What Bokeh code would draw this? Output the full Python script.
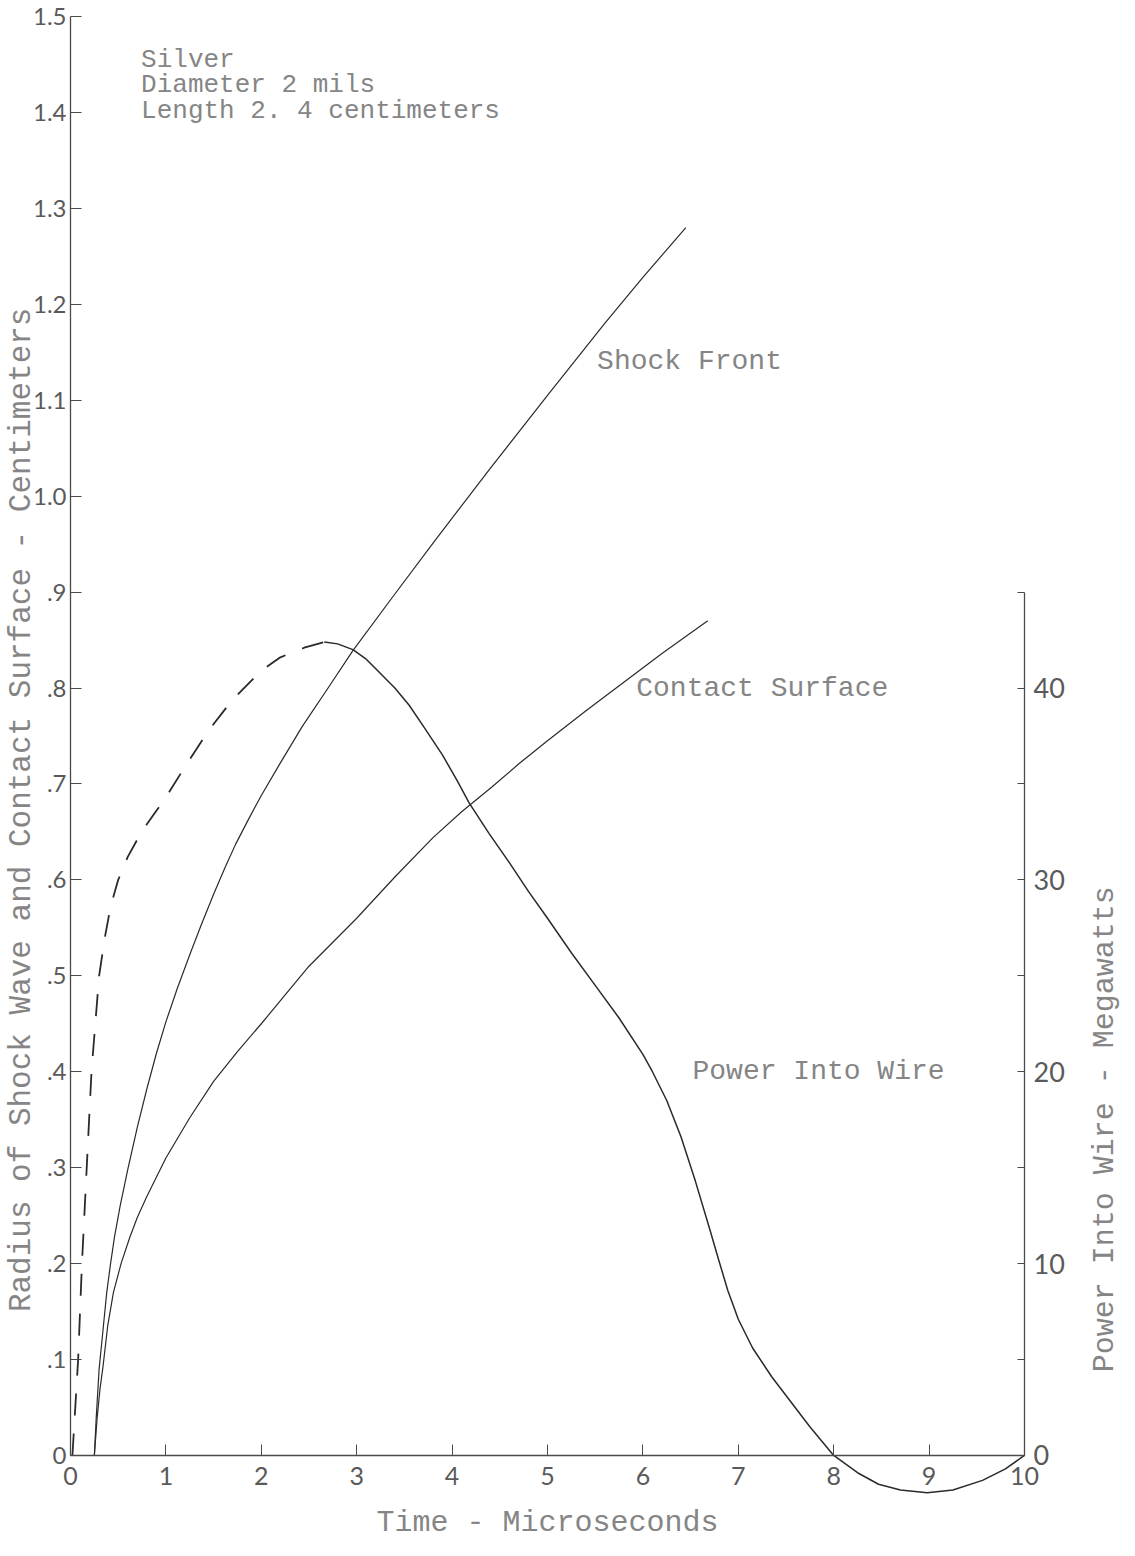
from math import pi
from bokeh.plotting import figure
from bokeh.models import Range1d, LinearAxis, FixedTicker, Label
from bokeh.embed import file_html
from bokeh.resources import INLINE

# ---------------- data ----------------
# time in microseconds, radius in centimeters
shock_t = [0.25, 0.27, 0.30, 0.34, 0.38, 0.42, 0.46, 0.52, 0.60, 0.70, 0.80, 0.90, 1.00, 1.12, 1.25,
           1.37, 1.50, 1.62, 1.73, 1.86, 2.00, 2.20, 2.43, 2.70, 2.96, 3.40, 3.83, 4.40, 5.00, 5.60, 6.00,
           6.45]
shock_r = [0.0, 0.04, 0.09, 0.13, 0.17, 0.20, 0.227, 0.26, 0.298, 0.342, 0.382, 0.419, 0.452, 0.487, 0.522,
           0.553, 0.585, 0.613, 0.637, 0.662, 0.688, 0.722, 0.760, 0.800, 0.839, 0.898, 0.955, 1.029, 1.105,
           1.180, 1.228, 1.280]

contact_t = [0.25, 0.28, 0.31, 0.34, 0.39, 0.45, 0.53, 0.62, 0.70, 0.80, 0.90, 1.00, 1.25, 1.50, 1.75,
             2.00, 2.25, 2.50, 2.75, 3.00, 3.40, 3.80, 4.10, 4.42, 4.70, 5.00, 5.40, 5.80, 6.20, 6.68]
contact_r = [0.0, 0.04, 0.07, 0.092, 0.135, 0.17, 0.20, 0.227, 0.248, 0.27, 0.29, 0.31, 0.352, 0.39, 0.421,
             0.45, 0.48, 0.51, 0.535, 0.56, 0.603, 0.644, 0.671, 0.697, 0.721, 0.745, 0.776, 0.806, 0.836,
             0.870]

# power into wire, megawatts (dashed early part, solid from the peak on)
power_dash_t = [0.02, 0.05, 0.08, 0.10, 0.12, 0.145, 0.17, 0.195, 0.22, 0.26, 0.30, 0.36, 0.42, 0.50, 0.60,
                0.70, 0.80, 0.90, 1.00, 1.20, 1.45, 1.70, 2.00, 2.20, 2.45, 2.66]
power_dash_p = [0.0, 2.5, 5.0, 7.5, 10.0, 12.5, 15.0, 17.5, 20.0, 22.5, 25.0, 27.0, 28.6, 30.0, 31.2,
                32.1, 32.9, 33.6, 34.3, 35.9, 37.8, 39.4, 40.9, 41.6, 42.1, 42.4]

power_t = [2.66, 2.80, 2.96, 3.10, 3.20, 3.40, 3.55, 3.70, 3.90, 4.05, 4.18, 4.39, 4.60, 4.80, 5.00, 5.25,
           5.50, 5.75, 6.00, 6.10, 6.25, 6.40, 6.55, 6.70, 6.80, 6.89, 7.00, 7.15, 7.35, 7.55, 7.75, 8.00,
           8.25, 8.47, 8.70, 8.98, 9.25, 9.56, 9.80, 10.0]
power_p = [42.4, 42.3, 42.0, 41.5, 41.0, 40.0, 39.1, 38.0, 36.5, 35.2, 34.0, 32.4, 30.9, 29.4, 28.0, 26.2,
           24.5, 22.8, 20.9, 20.0, 18.5, 16.6, 14.3, 11.8, 10.1, 8.6, 7.1, 5.6, 4.1, 2.8, 1.5, 0.0,
           -0.9, -1.5, -1.8, -1.95, -1.8, -1.3, -0.7, 0.0]

x_ticks = [0, 1, 2, 3, 4, 5, 6, 7, 8, 9, 10]
left_ticks = [0.0, 0.1, 0.2, 0.3, 0.4, 0.5, 0.6, 0.7, 0.8, 0.9, 1.0, 1.1, 1.2, 1.3, 1.4, 1.5]
left_labels = ["0", ".1", ".2", ".3", ".4", ".5", ".6", ".7", ".8", ".9", "1.0", "1.1", "1.2", "1.3", "1.4", "1.5"]
right_major = [0, 10, 20, 30, 40]
right_minor = [5, 15, 25, 35, 45]

info_lines = ["Silver", "Diameter  2  mils", "Length 2. 4 centimeters"]
x_title = "Time - Microseconds"
left_title = "Radius of Shock Wave and Contact Surface - Centimeters"
right_title = "Power Into Wire - Megawatts"

MW_PER_CM = 50.0  # 40 MW sits at the .8 level

# ---------------- figure ----------------
PX_X = 95.4     # pixels per microsecond
PX_Y = 959.3    # pixels per centimeter
W, H = 1125, 1540
X0 = -70 / PX_X
X1 = X0 + W / PX_X
Y1 = 1.5 + 16 / PX_Y
Y0 = Y1 - H / PX_Y

p = figure(width=W, height=H, output_backend="svg", toolbar_location=None,
           x_range=Range1d(X0, X1), y_range=Range1d(Y0, Y1),
           x_axis_location=None, y_axis_location=None,
           min_border=0)
p.outline_line_color = None
p.background_fill_color = "white"
p.border_fill_color = "white"
p.xgrid.grid_line_color = None
p.ygrid.grid_line_color = None
p.extra_y_ranges = {"power": Range1d(Y0 * MW_PER_CM, Y1 * MW_PER_CM)}

AX_COLOR = "#4a4a4a"
NUM_COLOR = "#5a5a5a"
TXT_COLOR = "#858585"
NUM_FONT = "Lato"
TW_FONT = "Liberation Mono"

# left axis at t = 0
lax = LinearAxis(ticker=FixedTicker(ticks=left_ticks), bounds=(0, 1.5), fixed_location=0,
                 major_label_overrides=dict(zip(left_ticks, left_labels)))
lax.axis_line_color = AX_COLOR
lax.axis_line_width = 1.3
lax.major_tick_in = 11
lax.major_tick_out = 0
lax.major_tick_line_color = AX_COLOR
lax.minor_tick_line_color = None
lax.major_label_standoff = 4
lax.major_label_text_font = NUM_FONT
lax.major_label_text_font_size = "24px"
lax.major_label_text_color = NUM_COLOR
p.add_layout(lax, "left")

# bottom axis drawn at the zero line
bax = LinearAxis(ticker=FixedTicker(ticks=x_ticks), bounds=(0, 10), fixed_location=0)
bax.axis_line_color = AX_COLOR
bax.axis_line_width = 1.3
bax.major_tick_in = 11
bax.major_tick_out = 0
bax.major_tick_line_color = AX_COLOR
bax.minor_tick_line_color = None
bax.major_label_standoff = 12
bax.major_label_text_font = NUM_FONT
bax.major_label_text_font_size = "25px"
bax.major_label_text_color = NUM_COLOR
bax.axis_label = x_title
bax.axis_label_text_font = TW_FONT
bax.axis_label_text_font_size = "30px"
bax.axis_label_text_font_style = "normal"
bax.axis_label_text_color = TXT_COLOR
bax.axis_label_standoff = 17
p.add_layout(bax, "below")

# right axis (power) drawn at t = 10
rax = LinearAxis(y_range_name="power", fixed_location=10, bounds=(0, 45),
                 ticker=FixedTicker(ticks=right_major, minor_ticks=right_minor))
rax.axis_line_color = AX_COLOR
rax.axis_line_width = 1.3
rax.major_tick_in = 7
rax.major_tick_out = 0
rax.minor_tick_in = 7
rax.minor_tick_out = 0
rax.major_tick_line_color = AX_COLOR
rax.minor_tick_line_color = AX_COLOR
rax.major_label_standoff = 9
rax.major_label_text_font = NUM_FONT
rax.major_label_text_font_size = "27px"
rax.major_label_text_color = NUM_COLOR
p.add_layout(rax, "right")

# ---------------- curves ----------------
LINE = "#2a2a2a"
p.line(shock_t, shock_r, line_color=LINE, line_width=1.2, line_join="round")
p.line(contact_t, contact_r, line_color=LINE, line_width=1.2, line_join="round")
p.line(power_dash_t, power_dash_p, y_range_name="power", line_color=LINE, line_width=1.8,
       line_dash="22 18", line_join="round")
p.line(power_t, power_p, y_range_name="power", line_color=LINE, line_width=1.5, line_join="round")

# ---------------- texts ----------------
def add_text(x, y, txt, size, angle=0.0, align="left", baseline="middle", color=TXT_COLOR):
    p.add_layout(Label(x=x, y=y, text=txt, angle=angle, text_align=align, text_baseline=baseline,
                       text_font=TW_FONT, text_font_size=size, text_color=color))

for i, line in enumerate(info_lines):
    add_text(0.74, 1.455 - i * 0.0266, line, "26px")

add_text(5.52, 1.14, "Shock Front", "28px")
add_text(5.93, 0.80, "Contact Surface", "28px")
add_text(6.52, 0.40, "Power Into Wire", "28px")

add_text(-0.515, 0.673, left_title, "31px", angle=pi / 2, align="center")
add_text(10.84, 0.34, right_title, "30px", angle=pi / 2, align="center")

open("out.html", "w").write(file_html(p, INLINE))
